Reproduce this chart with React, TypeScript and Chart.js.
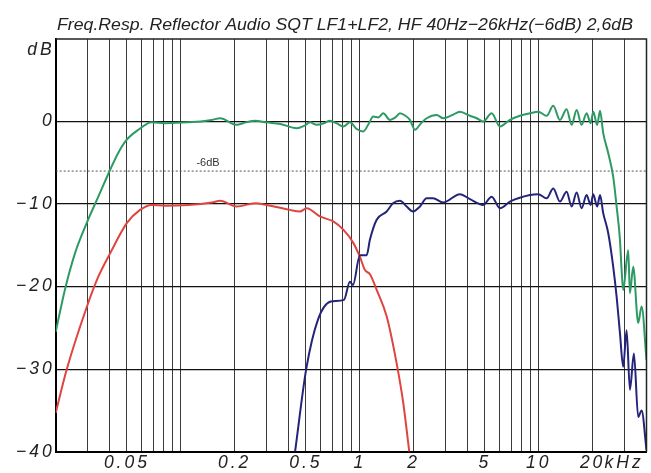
import React, { useEffect, useRef } from 'react';
import { Chart, registerables } from 'chart.js';

Chart.register(...registerables);

const TITLE = 'Freq.Resp. Reflector Audio SQT LF1+LF2, HF 40Hz−26kHz(−6dB) 2,6dB';

// x grid (kHz) and labels
const xTickValues = [0.02, 0.03, 0.04, 0.05, 0.06, 0.07, 0.08, 0.09, 0.1, 0.2, 0.3, 0.4, 0.5, 0.6, 0.7, 0.8, 0.9, 1, 2, 3, 4, 5, 6, 7, 8, 9, 10, 20, 30, 40];
const xLabelValues = [0.05, 0.2, 0.5, 1, 2, 5, 10, 20, 30];
const xLabelTexts = ['0.05', '0.2', '0.5', '1', '2', '5', '10', '20', 'kHz'];

// y grid (dB) and labels
const yTickValues = [-40, -30, -20, -10, 0, 8.6];
const yTickLabels = ['−40', '−30', '−20', '−10', '0', 'dB'];
const UNIT_TICK = 8.6;

// -6 dB reference
const refFreq = [0.02, 40];
const refDb = [-6, -6];
const refLabel = '-6dB';
const refLabelFreq = 0.142;
const refLabelDb = -5.0;

// Total (LF1+LF2+HF) - green
const greenFreq = [0.02, 0.0225, 0.0256, 0.0298, 0.0346, 0.0402, 0.0447, 0.0499, 0.0579, 0.0688, 0.0816, 0.11, 0.149, 0.166, 0.205, 0.23, 0.26, 0.302, 0.36, 0.444, 0.49, 0.527, 0.574, 0.63, 0.681, 0.74, 0.809, 0.881, 0.961, 1.046, 1.12, 1.189, 1.27, 1.353, 1.475, 1.58, 1.677, 1.8, 1.907, 2.034, 2.2, 2.364, 2.69, 2.926, 3.3, 3.628, 4.126, 4.5, 4.896, 5.454, 6.07, 6.9, 7.85, 8.93, 9.93, 11.07, 12.05, 13.13, 14.31, 15.27, 16.28, 17.36, 18.51, 19.5, 20.16, 21.2, 22.0, 22.92, 24.44, 26.07, 27.23, 28.42, 29.04, 29.64, 31.62, 32.31, 33.71, 35.95, 37.56, 40];
const greenDb = [-25.5, -20.4, -16.0, -12.3, -9.1, -5.9, -3.8, -2.2, -1.0, -0.1, -0.2, -0.1, 0.2, 0.4, -0.4, -0.1, 0.1, -0.1, -0.3, -0.8, -0.5, -0.1, -0.4, -0.2, 0.1, -0.2, -0.6, -0.1, -0.9, -1.2, -0.3, 0.6, 0.5, 1.0, 0.2, 0.5, 1.0, 0.7, 0.2, -1.0, -0.2, 0.4, 0.8, 0.4, 0.8, 1.2, 0.7, 0.4, 0.0, 1.0, -0.6, 0.2, 0.7, 1.0, 1.2, 0.7, 1.9, 0.2, 1.5, -0.4, 1.4, -0.4, 1.0, -0.2, 1.2, -0.4, 1.3, -1.4, -3.8, -6.7, -10.3, -14.3, -18.0, -20.4, -15.6, -20.8, -17.6, -24.4, -22.4, -28.9];

// LF1+LF2 - red
const redFreq = [0.02, 0.023, 0.0298, 0.0346, 0.0402, 0.0499, 0.0592, 0.0688, 0.0816, 0.11, 0.149, 0.166, 0.205, 0.26, 0.302, 0.407, 0.463, 0.505, 0.599, 0.711, 0.809, 0.92, 1.002, 1.069, 1.14, 1.243, 1.413, 1.607, 1.75, 1.89];
const redDb = [-35.3, -30.1, -22.5, -18.8, -16.0, -12.3, -10.7, -10.1, -10.2, -10.1, -9.8, -9.6, -10.3, -9.9, -10.1, -10.7, -10.9, -10.5, -11.5, -12.1, -13.1, -14.7, -16.4, -18.0, -18.5, -20.4, -23.6, -29.3, -34.1, -40];

// HF - navy
const blueFreq = [0.435, 0.502, 0.584, 0.69, 0.816, 0.881, 0.916, 1.002, 1.093, 1.14, 1.243, 1.413, 1.533, 1.677, 1.828, 1.982, 2.168, 2.364, 2.564, 2.926, 3.628, 4.126, 4.896, 5.454, 6.07, 6.9, 8.93, 9.93, 11.07, 12.05, 13.13, 14.31, 15.27, 16.28, 17.36, 18.51, 19.5, 20.16, 21.2, 22.0, 22.92, 24.44, 26.07, 27.23, 28.42, 29.64, 30.97, 32.31, 34.02, 35.95, 37.56, 40];
const blueDb = [-40, -30, -24, -21.8, -21.6, -19.4, -19.8, -16.2, -16.2, -14.3, -11.9, -10.9, -9.9, -9.6, -10.3, -10.9, -10.3, -9.3, -9.3, -9.8, -8.8, -9.4, -10.1, -9.1, -10.5, -9.7, -8.9, -8.8, -9.3, -8.1, -9.7, -8.5, -10.3, -8.6, -10.5, -8.9, -10.1, -8.8, -10.3, -8.9, -11.1, -13.5, -17.6, -21.2, -25.6, -29.7, -25.3, -32.5, -28.1, -35.8, -35.0, -39.8];

const toPoints = (xs: number[], ys: number[]) => xs.map((x, i) => ({ x, y: ys[i] }));

const FONT_FAMILY = '"Liberation Sans", Arial, sans-serif';

const decorPlugin = {
  id: 'decor',
  beforeDraw(chart: any) {
    chart.ctx.letterSpacing = '3px';
  },
  beforeDatasetsDraw(chart: any) {
    chart.ctx.letterSpacing = '0px';
  },
  afterDraw(chart: any) {
    const ctx = chart.ctx;
    const area = chart.chartArea;
    ctx.save();
    ctx.letterSpacing = '0px';
    // frame: top and right
    ctx.strokeStyle = '#222';
    ctx.lineWidth = 1.5;
    ctx.beginPath();
    ctx.moveTo(area.left, area.top);
    ctx.lineTo(area.right, area.top);
    ctx.lineTo(area.right, area.bottom);
    ctx.stroke();
    // -6dB label
    const xs = chart.scales.x;
    const ys = chart.scales.y;
    ctx.fillStyle = '#333';
    ctx.font = `11px ${FONT_FAMILY}`;
    ctx.textAlign = 'center';
    ctx.textBaseline = 'middle';
    ctx.fillText(refLabel, xs.getPixelForValue(refLabelFreq), ys.getPixelForValue(refLabelDb));
    // title
    ctx.font = `italic 17px ${FONT_FAMILY}`;
    const w = ctx.measureText(TITLE).width;
    ctx.translate(345, 29.5);
    ctx.scale(576 / w, 1);
    ctx.textAlign = 'center';
    ctx.textBaseline = 'alphabetic';
    ctx.fillStyle = '#222';
    ctx.fillText(TITLE, 0, 0);
    ctx.restore();
  },
};

export default function App() {
  const canvasRef = useRef<HTMLCanvasElement | null>(null);

  useEffect(() => {
    document.body.style.margin = '0';
    const canvas = canvasRef.current;
    if (!canvas) return;
    const tickFont = { family: FONT_FAMILY, size: 17.5, style: 'italic' as const };
    const chart = new Chart(canvas, {
      type: 'line',
      data: {
        datasets: [
          {
            label: 'LF1+LF2+HF',
            data: toPoints(greenFreq, greenDb),
            borderColor: '#2e9a63',
            borderWidth: 2,
          },
          {
            label: 'HF',
            data: toPoints(blueFreq, blueDb),
            borderColor: '#24247a',
            borderWidth: 2,
          },
          {
            label: 'LF1+LF2',
            data: toPoints(redFreq, redDb),
            borderColor: '#e0443e',
            borderWidth: 2,
          },
          {
            label: '-6dB',
            data: toPoints(refFreq, refDb),
            borderColor: '#555',
            borderWidth: 1,
            borderDash: [2, 2],
            cubicInterpolationMode: 'default',
          },
        ] as any,
      },
      options: {
        animation: false,
        responsive: false,
        maintainAspectRatio: false,
        layout: { padding: { left: 0, top: 39, right: 4.5, bottom: 0 } },
        plugins: {
          legend: { display: false },
          tooltip: { enabled: false },
          title: { display: false },
        },
        elements: {
          point: { radius: 0 },
          line: { cubicInterpolationMode: 'monotone' },
        },
        scales: {
          x: {
            type: 'logarithmic',
            min: 0.02,
            max: 40,
            afterBuildTicks: (s: any) => {
              s.ticks = xTickValues.map((v) => ({ value: v }));
            },
            afterFit: (s: any) => {
              s.height = 21.3;
            },
            ticks: {
              autoSkip: false,
              maxRotation: 0,
              minRotation: 0,
              padding: 1,
              color: '#222',
              font: tickFont,
              callback: (v: any) => {
                const i = xLabelValues.indexOf(Number(v));
                return i >= 0 ? xLabelTexts[i] : '';
              },
            },
            grid: { color: '#3a3a3a', lineWidth: 1, drawTicks: false },
            border: { color: '#000', width: 2 },
          },
          y: {
            type: 'linear',
            min: -40,
            max: 10,
            afterBuildTicks: (s: any) => {
              s.ticks = yTickValues.map((v) => ({ value: v }));
            },
            afterFit: (s: any) => {
              s.width = 55.7;
            },
            ticks: {
              autoSkip: false,
              padding: 1,
              color: '#222',
              font: tickFont,
              callback: (v: any) => {
                const i = yTickValues.indexOf(Number(v));
                return i >= 0 ? yTickLabels[i] : '';
              },
            },
            grid: {
              color: (c: any) => (c.tick && c.tick.value === UNIT_TICK ? 'rgba(0,0,0,0)' : '#111'),
              lineWidth: 1.3,
              drawTicks: false,
            },
            border: { color: '#000', width: 2 },
          },
        },
      } as any,
      plugins: [decorPlugin],
    });
    return () => chart.destroy();
  }, []);

  return (
    <div style={{ position: 'absolute', left: 0, top: 0 }}>
      <canvas ref={canvasRef} width={651} height={473} style={{ display: 'block' }} />
    </div>
  );
}
